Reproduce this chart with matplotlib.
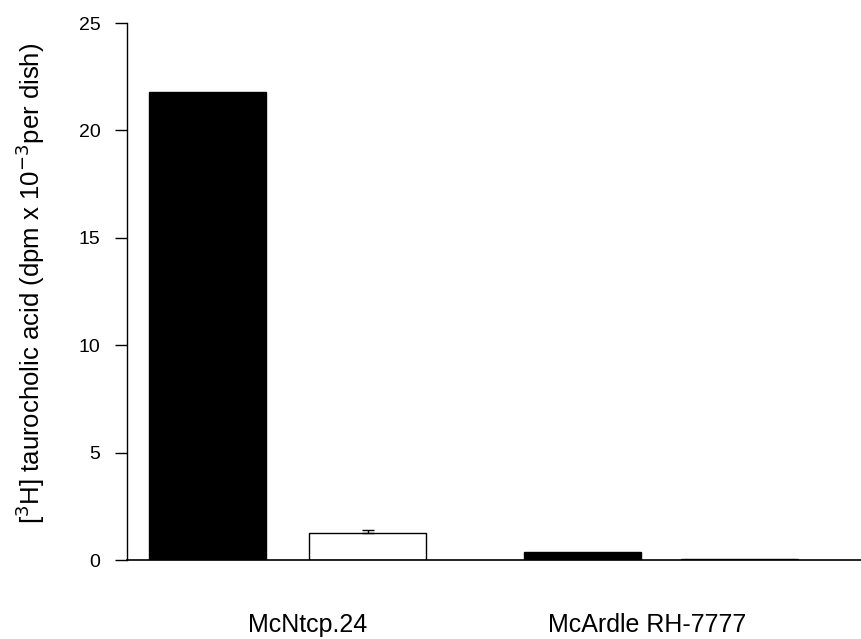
import numpy as np
import matplotlib.pyplot as plt

plt.rcParams["font.family"] = ["Liberation Sans", "DejaVu Sans"]

# Data
positions = [0.5, 1.5, 2.84, 3.82]
values = [21.8, 1.26, 0.38, 0.05]
errors = [0.0, 0.12, 0.0, 0.0]
colors = ["black", "white", "black", "white"]
groups = ["McNtcp.24", "McArdle RH-7777"]
group_ticks = [1.125, 3.24]
yticks = [0, 5, 10, 15, 20, 25]

fig = plt.figure(figsize=(8.61, 6.39), dpi=100)
ax = fig.add_axes([0.1475, 0.1236, 0.8525, 0.8404])

ax.bar(positions, values, width=0.73, color=colors, edgecolor="black",
       linewidth=1.0)
ax.errorbar(positions[1], values[1], yerr=[[0], [errors[1]]], fmt="none",
            ecolor="black", elinewidth=1, capsize=4)

ax.set_xlim(0, 4.575)
ax.set_ylim(0, 25)
ax.set_yticks(yticks)
ax.tick_params(axis="y", direction="out", length=9, width=1, labelsize=14, pad=10)
ax.set_xticks(group_ticks)
ax.set_xticklabels(groups)
ax.tick_params(axis="x", length=0, labelsize=18, pad=38)

for s in ["top", "right"]:
    ax.spines[s].set_visible(False)
ax.spines["left"].set_linewidth(1)
ax.spines["bottom"].set_linewidth(1.2)

ax.set_ylabel(r"[$^3$H] taurocholic acid (dpm x 10$^{-3}$per dish)",
              fontsize=18.5)
ax.yaxis.set_label_coords(-0.109, 0.516)

fig.savefig("out.png", dpi=100)
